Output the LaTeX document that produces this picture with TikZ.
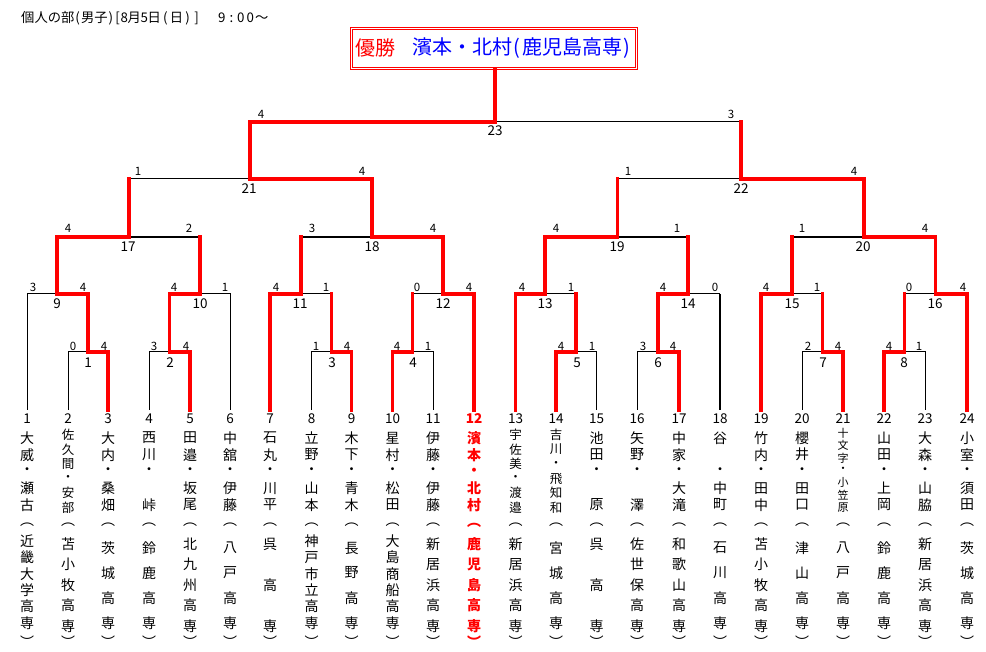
\documentclass[tikz,border=0pt]{standalone}
\usepackage{fontspec}
\setmainfont{Noto Sans CJK JP}
\newcommand\vcol[6]{% id, x, y0, step, style, list
  \foreach \c [count=\i from 0] in {#6}{%
    \node[vch,#5] (#1-\i) at (#2,{#3+#4*\i}) {\c};}}
\newcommand\hwb[1]{\makebox[6.65pt]{#1}}
\newcommand\mwb[1]{\makebox[9pt]{#1}}
\newcommand\dgb[1]{\makebox[9.5pt]{#1}}
\newcommand\hwx[1]{\makebox[10pt]{#1}}
\begin{document}
\begin{tikzpicture}[x=1pt,y=-1pt,
  win/.style={draw=red,line width=3.6pt,line join=miter,line cap=rect},
  lose/.style={draw=black,line width=1pt},
  losew/.style={draw=black,line width=1.8pt},
  sc/.style={inner sep=0pt,font=\fontsize{11.5}{12}\selectfont},
  mn/.style={inner sep=0pt,font=\fontsize{13.5}{14}\selectfont},
  vch/.style={inner sep=0pt},
  nmv/.style={font=\fontsize{14}{14}\selectfont},
  nms/.style={font=\fontsize{12.5}{12.5}\selectfont},
  nmt/.style={font=\fontsize{11}{11}\selectfont},
  sch/.style={font=\fontsize{14}{14}\selectfont},
  hot/.style={text=red,font=\fontsize{14}{14}\selectfont\bfseries},
  hotnum/.style={text=red,font=\fontsize{13.5}{14}\selectfont\bfseries}]
\useasboundingbox[fill=white] (0,0) rectangle (986,652);
% title
\node[anchor=west,inner sep=0pt,font=\fontsize{13.3}{14}\selectfont] (title) at (21,18)
  {個人の部\hwb{(}男子\hwb{)}\hwb{[}\hwb{8}月\hwb{5}日\mwb{(}日\mwb{)}\mwb{]}\hspace{16pt}\dgb{9}\dgb{:}\dgb{0}\dgb{0}～};
% champion box
\node[draw=red,line width=0.9pt,double=white,double distance=1.4pt,minimum width=285pt,minimum height=40pt,inner sep=0pt] (champ) at (494,48.5) {};
\node[inner sep=0pt,text=red,font=\fontsize{20}{20}\selectfont] (yusho) at (375,48) {優勝};
\node[anchor=west,inner sep=0pt,text=blue,font=\fontsize{20}{20}\selectfont] (winner) at (412,48) {濱本・北村\hwx{(}鹿児島高専\hwx{)}};
% leaf coordinates (bottom ends)
\foreach \n/\x in {1/27,2/68,3/108,4/149,5/190,6/230,7/270,8/311.5,9/351.5,10/392.5,11/433,12/474,13/515.5,14/556,15/596.5,16/637,17/679,18/720,19/761,20/802,21/843,22/884,23/925,24/967}
  \coordinate (p\n) at (\x,410);
% match coordinates
\coordinate (m1) at (88,352);
\coordinate (m2) at (169.5,352);
\coordinate (m3) at (331.5,352);
\coordinate (m4) at (412.5,352);
\coordinate (m5) at (576,352);
\coordinate (m6) at (658,352);
\coordinate (m7) at (822.5,352);
\coordinate (m8) at (904.5,352);
\coordinate (m9) at (57,294);
\coordinate (m10) at (200,294);
\coordinate (m11) at (301,294);
\coordinate (m12) at (443,294);
\coordinate (m13) at (545,294);
\coordinate (m14) at (688,294);
\coordinate (m15) at (792,294);
\coordinate (m16) at (935.5,294);
\coordinate (m17) at (129,237);
\coordinate (m18) at (372,237);
\coordinate (m19) at (617.5,237);
\coordinate (m20) at (864,237);
\coordinate (m21) at (250,179);
\coordinate (m22) at (741,179);
\coordinate (m23) at (495,122);
% black (losing) lines
\draw[lose] (m1) -- (p2 |- m1) -- (p2);
\draw[lose] (m2) -- (p4 |- m2) -- (p4);
\draw[lose] (m3) -- (p8 |- m3) -- (p8);
\draw[lose] (m4) -- (p11 |- m4) -- (p11);
\draw[lose] (m5) -- (p15 |- m5) -- (p15);
\draw[lose] (m6) -- (p16 |- m6) -- (p16);
\draw[lose] (m7) -- (p20 |- m7) -- (p20);
\draw[lose] (m8) -- (p23 |- m8) -- (p23);
\draw[lose] (m9) -- (p1 |- m9) -- (p1);
\draw[lose] (m10) -- (p6 |- m10) -- (p6);
\draw[lose] (m11) -- (m3 |- m11);
\draw[lose] (m12) -- (m4 |- m12);
\draw[lose] (m13) -- (m5 |- m13);
\draw[lose] (m14) -- (p18 |- m14);
\draw[losew] (p18 |- m14) -- (p18);
\draw[lose] (m15) -- (m7 |- m15);
\draw[lose] (m16) -- (m8 |- m16);
\draw[losew] (m17) -- (m10 |- m17);
\draw[losew] (m18) -- (m11 |- m18);
\draw[losew] (m19) -- (m14 |- m19);
\draw[losew] (m20) -- (m15 |- m20);
\draw[lose] (m21) -- (m17 |- m21);
\draw[lose] (m22) -- (m19 |- m22);
\draw[lose] (m23) -- (m22 |- m23);
% red (winning) paths
\draw[win] (p3) -- (p3 |- m1) -- (m1) -- (m1 |- m9) -- (m9) -- (m9 |- m17) -- (m17) -- (m17 |- m21);
\draw[win] (p5) -- (p5 |- m2) -- (m2) -- (m2 |- m10) -- (m10) -- (m10 |- m17);
\draw[win] (p7) -- (p7 |- m11) -- (m11) -- (m11 |- m18);
\draw[win] (p9) -- (p9 |- m3) -- (m3) -- (m3 |- m11);
\draw[win] (p10) -- (p10 |- m4) -- (m4) -- (m4 |- m12);
\draw[win] (p12) -- (p12 |- m12) -- (m12) -- (m12 |- m18) -- (m18) -- (m18 |- m21) -- (m21) -- (m21 |- m23) -- (m23) -- (m23 |- champ.south);
\draw[win] (p13) -- (p13 |- m13) -- (m13) -- (m13 |- m19) -- (m19) -- (m19 |- m22);
\draw[win] (p14) -- (p14 |- m5) -- (m5) -- (m5 |- m13);
\draw[win] (p17) -- (p17 |- m6) -- (m6) -- (m6 |- m14) -- (m14) -- (m14 |- m19);
\draw[win] (p19) -- (p19 |- m15) -- (m15) -- (m15 |- m20);
\draw[win] (p21) -- (p21 |- m7) -- (m7) -- (m7 |- m15);
\draw[win] (p22) -- (p22 |- m8) -- (m8) -- (m8 |- m16);
\draw[win] (p24) -- (p24 |- m16) -- (m16) -- (m16 |- m20) -- (m20) -- (m20 |- m22) -- (m22) -- (m22 |- m23);
% scores and match numbers
\foreach \id/\x/\y/\t in {
  a1/73/346/0, b1/104/346/4, a2/154/346/3, b2/186/346/4, a3/316/346/1, b3/347/346/4,
  a4/397/346/4, b4/428/346/1, a5/561/346/4, b5/592/346/1, a6/643/346/3, b6/673/346/4,
  a7/808/346/2, b7/838/346/4, a8/889/346/4, b8/919/346/1,
  a9/33/287/3, b9/83/287/4, a10/174/287/4, b10/225/287/1, a11/276/287/4, b11/326/287/1,
  a12/417/287/0, b12/469/287/4, a13/522/287/4, b13/571/287/1, a14/663/287/4, b14/715/287/0,
  a15/766/287/4, b15/817/287/1, a16/909/287/0, b16/963/287/4,
  a17/68/228/4, b17/189/228/2, a18/312/228/3, b18/433/228/4, a19/556/228/4, b19/677/228/1,
  a20/802/228/1, b20/925/228/4,
  a21/138/171/1, b21/362/171/4, a22/628/171/1, b22/854/171/4,
  a23/261/114/4, b23/731/114/3}
  \node[sc] (s\id) at (\x,\y) {\t};
\foreach \t/\x/\y in {1/88/363,2/170/363,3/332/363,4/413/363,5/577/363,6/658/363,7/823/363,8/904/363,
  9/57/304,10/200/304,11/300/304,12/443/304,13/545/304,14/688/304,15/792/304,16/935/304,
  17/128/247,18/372/247,19/617/247,20/863/247,21/249/189,22/741/189,23/495/131}
  \node[mn] (mn\t) at (\x,\y) {\t};
% leaf numbers
\foreach \n/\x in {1/27,2/68,3/108,4/149,5/190,6/230,7/270,8/311.5,9/351.5,10/392.5,11/433,13/515.5,14/556,15/596.5,16/637,17/679,18/720,19/761,20/802,21/843,22/884,23/925,24/967}
  \node[mn] (ln\n) at (\x,419) {\n};
\node[inner sep=0pt,hotnum] (ln12) at (474,419) {12};
% parentheses of schools
\foreach \n/\x in {1/27,2/68,3/108,4/149,5/190,6/230,7/270,8/311.5,9/351.5,10/392.5,11/433,13/515.5,14/556,15/596.5,16/637,17/679,18/720,19/761,20/802,21/843,22/884,23/925,24/967}{
  \node[vch,sch] (po\n) at (\x,525) {︵};
  \node[vch,sch] (pc\n) at (\x,642) {︶};}
\node[vch,hot] (po12) at (474,525) {︵};
\node[vch,hot] (pc12) at (474,642) {︶};
% names
\vcol{a1}{27}{438}{16.75}{nmv}{大,威,・,瀬,古}
\vcol{a2}{68}{435}{14.5}{nms}{佐,久,間,・,安,部}
\vcol{a3}{108}{438}{16.75}{nmv}{大,内,・,桑,畑}
\vcol{a4}{149}{438}{16.75}{nmv}{西,川,・,{},峠}
\vcol{a5}{190}{438}{16.75}{nmv}{田,邉,・,坂,尾}
\vcol{a6}{230}{438}{16.75}{nmv}{中,舘,・,伊,藤}
\vcol{a7}{270}{438}{16.75}{nmv}{石,丸,・,川,平}
\vcol{a8}{311.5}{438}{16.75}{nmv}{立,野,・,山,本}
\vcol{a9}{351.5}{438}{16.75}{nmv}{木,下,・,青,木}
\vcol{a10}{392.5}{438}{16.75}{nmv}{星,村,・,松,田}
\vcol{a11}{433}{438}{16.75}{nmv}{伊,藤,・,伊,藤}
\vcol{a12}{474}{438}{16.75}{hot}{濱,本,・,北,村}
\vcol{a13}{515.5}{435}{14.5}{nms}{宇,佐,美,・,渡,邉}
\vcol{a14}{556}{435}{14.5}{nms}{吉,川,・,飛,知,和}
\vcol{a15}{596.5}{438}{16.75}{nmv}{池,田,・,{},原}
\vcol{a16}{637}{438}{16.75}{nmv}{矢,野,・,{},澤}
\vcol{a17}{679}{438}{16.75}{nmv}{中,家,・,大,滝}
\vcol{a18}{720}{438}{16.75}{nmv}{谷,{},・,中,町}
\vcol{a19}{761}{438}{16.75}{nmv}{竹,内,・,田,中}
\vcol{a20}{802}{438}{16.75}{nmv}{櫻,井,・,田,口}
\vcol{a21}{843}{433}{12.4}{nmt}{十,文,字,・,小,笠,原}
\vcol{a22}{884}{438}{16.75}{nmv}{山,田,・,上,岡}
\vcol{a23}{925}{438}{16.75}{nmv}{大,森,・,山,脇}
\vcol{a24}{967}{438}{16.75}{nmv}{小,室,・,須,田}
% schools
\vcol{b1}{27}{541}{16.4}{sch}{近,畿,大,学,高,専}
\vcol{b2}{68}{544}{20.5}{sch}{苫,小,牧,高,専}
\vcol{b3}{108}{548}{25}{sch}{茨,城,高,専}
\vcol{b4}{149}{548}{25}{sch}{鈴,鹿,高,専}
\vcol{b5}{190}{544}{20.5}{sch}{北,九,州,高,専}
\vcol{b6}{230}{548}{25}{sch}{八,戸,高,専}
\vcol{b7}{270}{544}{20.5}{sch}{呉,{},高,{},専}
\vcol{b8}{311.5}{541}{16.4}{sch}{神,戸,市,立,高,専}
\vcol{b9}{351.5}{548}{25}{sch}{長,野,高,専}
\vcol{b10}{392.5}{541}{16.4}{sch}{大,島,商,船,高,専}
\vcol{b11}{433}{544}{20.5}{sch}{新,居,浜,高,専}
\vcol{b12}{474}{544}{20.5}{hot}{鹿,児,島,高,専}
\vcol{b13}{515.5}{544}{20.5}{sch}{新,居,浜,高,専}
\vcol{b14}{556}{548}{25}{sch}{宮,城,高,専}
\vcol{b15}{596.5}{544}{20.5}{sch}{呉,{},高,{},専}
\vcol{b16}{637}{544}{20.5}{sch}{佐,世,保,高,専}
\vcol{b17}{679}{544}{20.5}{sch}{和,歌,山,高,専}
\vcol{b18}{720}{548}{25}{sch}{石,川,高,専}
\vcol{b19}{761}{544}{20.5}{sch}{苫,小,牧,高,専}
\vcol{b20}{802}{548}{25}{sch}{津,山,高,専}
\vcol{b21}{843}{548}{25}{sch}{八,戸,高,専}
\vcol{b22}{884}{548}{25}{sch}{鈴,鹿,高,専}
\vcol{b23}{925}{544}{20.5}{sch}{新,居,浜,高,専}
\vcol{b24}{967}{548}{25}{sch}{茨,城,高,専}
\end{tikzpicture}
\end{document}
